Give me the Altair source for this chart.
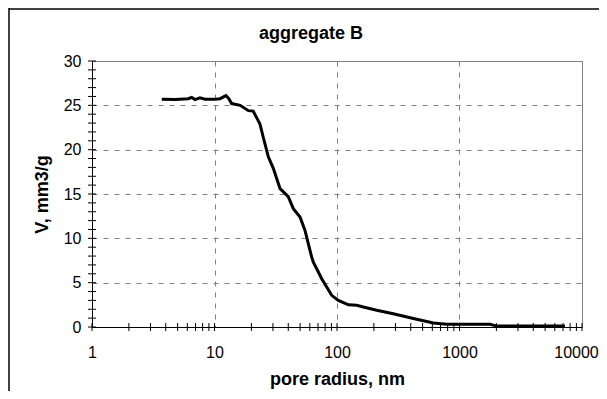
import altair as alt
import pandas as pd

# pore radius (nm) and cumulative volume (mm3/g)
radius = [3.71, 4.76, 6.11, 6.51, 6.93, 7.61, 8.36, 10.1, 11.1, 12.4, 13.1, 13.8,
          16.2, 18.9, 20.7, 23.5, 25.0, 27.5, 30.2, 34.3, 40.0, 44.0, 49.9, 54.8,
          58.3, 62.1, 64.1, 70.4, 75.0, 90.5, 102.5, 124, 145, 164, 211, 288, 420,
          612, 787, 1775, 2013, 7260]
volume = [25.7, 25.67, 25.75, 25.9, 25.65, 25.85, 25.7, 25.7, 25.75, 26.1, 25.75, 25.2,
          25.0, 24.4, 24.35, 22.9, 21.4, 19.2, 17.9, 15.6, 14.7, 13.35, 12.4, 10.9,
          9.4, 7.9, 7.3, 6.2, 5.45, 3.57, 3.0, 2.5, 2.45, 2.25, 1.88, 1.5, 0.95,
          0.45, 0.3, 0.3, 0.1, 0.1]

title_text = "aggregate B"
x_labels = [1, 10, 100, 1000, 10000]
y_labels = [0, 5, 10, 15, 20, 25, 30]
x_minor = [1, 2, 3, 4, 5, 6, 7, 8, 9,
           10, 20, 30, 40, 50, 60, 70, 80, 90,
           100, 200, 300, 400, 500, 600, 700, 800, 900,
           1000, 2000, 3000, 4000, 5000, 6000, 7000, 8000, 9000, 10000]
y_minor = list(range(0, 31))

W, H = 490, 266
FONT = "Liberation Sans"

df = pd.DataFrame({"r": radius, "V": volume})
xt = pd.DataFrame({"r": x_minor})
yt = pd.DataFrame({"V": y_minor})

xscale = alt.Scale(type="log", domain=[1, 10000], nice=False)
yscale = alt.Scale(domain=[0, 30], nice=False)

line = alt.Chart(df).mark_line(color="black", strokeWidth=3).encode(
    x=alt.X("r:Q", scale=xscale,
            axis=alt.Axis(title="pore radius, nm", values=x_labels, format="d",
                          ticks=False, labelPadding=17, titlePadding=10,
                          labelOffset={"condition": {"test": "datum.value == 10000", "value": -6}, "value": 0},
                          grid=True, gridDash=[5, 6], gridColor="#808080",
                          domainColor="black", labelFlush=False)),
    y=alt.Y("V:Q", scale=yscale,
            axis=alt.Axis(title="V, mm3/g", values=y_labels,
                          ticks=False, labelPadding=11, titlePadding=12,
                          grid=True, gridDash=[5, 6], gridColor="#808080",
                          domainColor="black")),
)

xticks = alt.Chart(xt).mark_rule(color="black", strokeWidth=1).encode(
    x=alt.X("r:Q", scale=xscale),
    y=alt.value(H - 4), y2=alt.value(H + 4),
)
yticks = alt.Chart(yt).mark_rule(color="black", strokeWidth=1).encode(
    y=alt.Y("V:Q", scale=yscale),
    x=alt.value(-4), x2=alt.value(4),
)

title = alt.Chart(pd.DataFrame({"t": [title_text]})).mark_text(
    font=FONT, fontSize=18, fontWeight="bold", color="black",
    align="center", baseline="alphabetic",
).encode(x=alt.value(219), y=alt.value(-22), text="t:N")

frame_left = alt.Chart(pd.DataFrame({"a": [0]})).mark_rule(color="black", strokeWidth=1.5).encode(
    x=alt.value(-83), y=alt.value(-53), y2=alt.value(H + 70),
)
frame_top = alt.Chart(pd.DataFrame({"a": [0]})).mark_rule(color="black", strokeWidth=1.5).encode(
    x=alt.value(-83), x2=alt.value(W + 20), y=alt.value(-52),
)

chart = alt.layer(frame_left, frame_top, line, xticks, yticks, title).properties(
    width=W, height=H,
    autosize=alt.AutoSizeParams(type="none"),
    padding={"left": 84, "top": 53, "right": 17, "bottom": 64},
).configure_view(
    stroke="#808080", strokeWidth=1
).configure_axis(
    labelFont=FONT, labelFontSize=16, labelColor="black",
    titleFont=FONT, titleFontSize=18, titleFontWeight="bold", titleColor="black",
    domainWidth=1,
)

chart.save("out.html", embed_options={"renderer": "svg", "actions": False})
